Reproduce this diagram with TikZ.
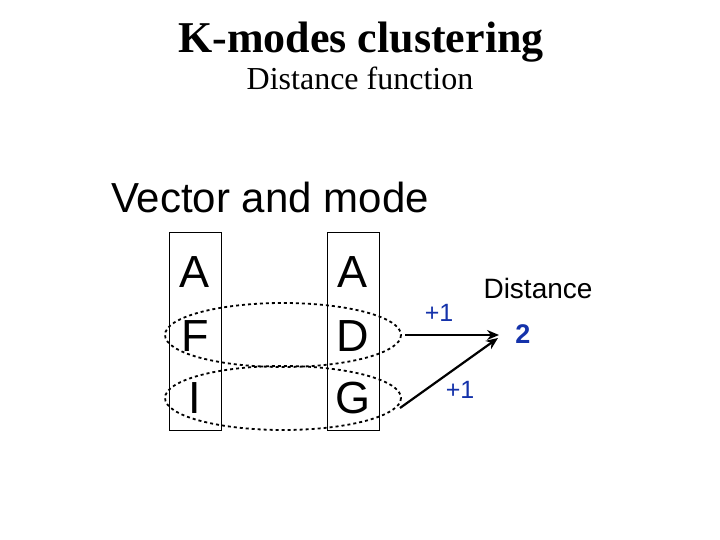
\documentclass[tikz,border=0pt]{standalone}
\usepackage{fontspec}
\setmainfont{Liberation Serif}
\setsansfont{Liberation Sans}
\usetikzlibrary{arrows.meta}
\definecolor{lblue}{RGB}{20,50,170}
\begin{document}
\begin{tikzpicture}[x=1pt,y=-1pt,
  col/.style={draw,line width=0.8pt,minimum width=52pt,minimum height=198pt},
  let/.style={font=\sffamily\fontsize{45}{45}\selectfont},
  arr/.style={-{Stealth[length=12pt,width=10pt]},line width=2.2pt},
  pl/.style={font=\sffamily\fontsize{25}{25}\selectfont,text=lblue}]
\useasboundingbox (0,0) rectangle (720,540);
\node (t1) at (361,42) {\bfseries\fontsize{44}{44}\selectfont K-modes clustering};
\node (t2) at (360,78) {\fontsize{32}{32}\selectfont Distance function};
\node (vm) at (270,197) {\sffamily\fontsize{42}{42}\selectfont Vector and mode};
\node[col] (b1) at (195,331) {};
\node[col] (b2) at (353,331) {};
\node[let] (a1) at (195,272) {A};
\node[let] (f1) at (195,336) {F};
\node[let] (i1) at (195,398) {I};
\node[let] (a2) at (353,272) {A};
\node[let] (d2) at (353,336) {D};
\node[let] (g2) at (353,398) {G};
\draw[dashed,line width=1.8pt] (283,335) ellipse (118 and 32);
\draw[dashed,line width=1.8pt] (283,398) ellipse (118 and 32);
\coordinate (s1) at (405,335);
\coordinate (s2) at (400,408);
\coordinate (e) at (499,335);
\coordinate (e2) at (498,338);
\draw[arr] (s1) -- (e);
\draw[arr] (s2) -- (e2);
\node[pl] (p1) at (439,313) {+1};
\node[pl] (p2) at (460,390) {+1};
\node (dist) at (538,288) {\sffamily\fontsize{28}{28}\selectfont Distance};
\node (two) at (523,334) {\sffamily\bfseries\fontsize{27}{27}\selectfont\color{lblue}2};
\end{tikzpicture}
\end{document}
